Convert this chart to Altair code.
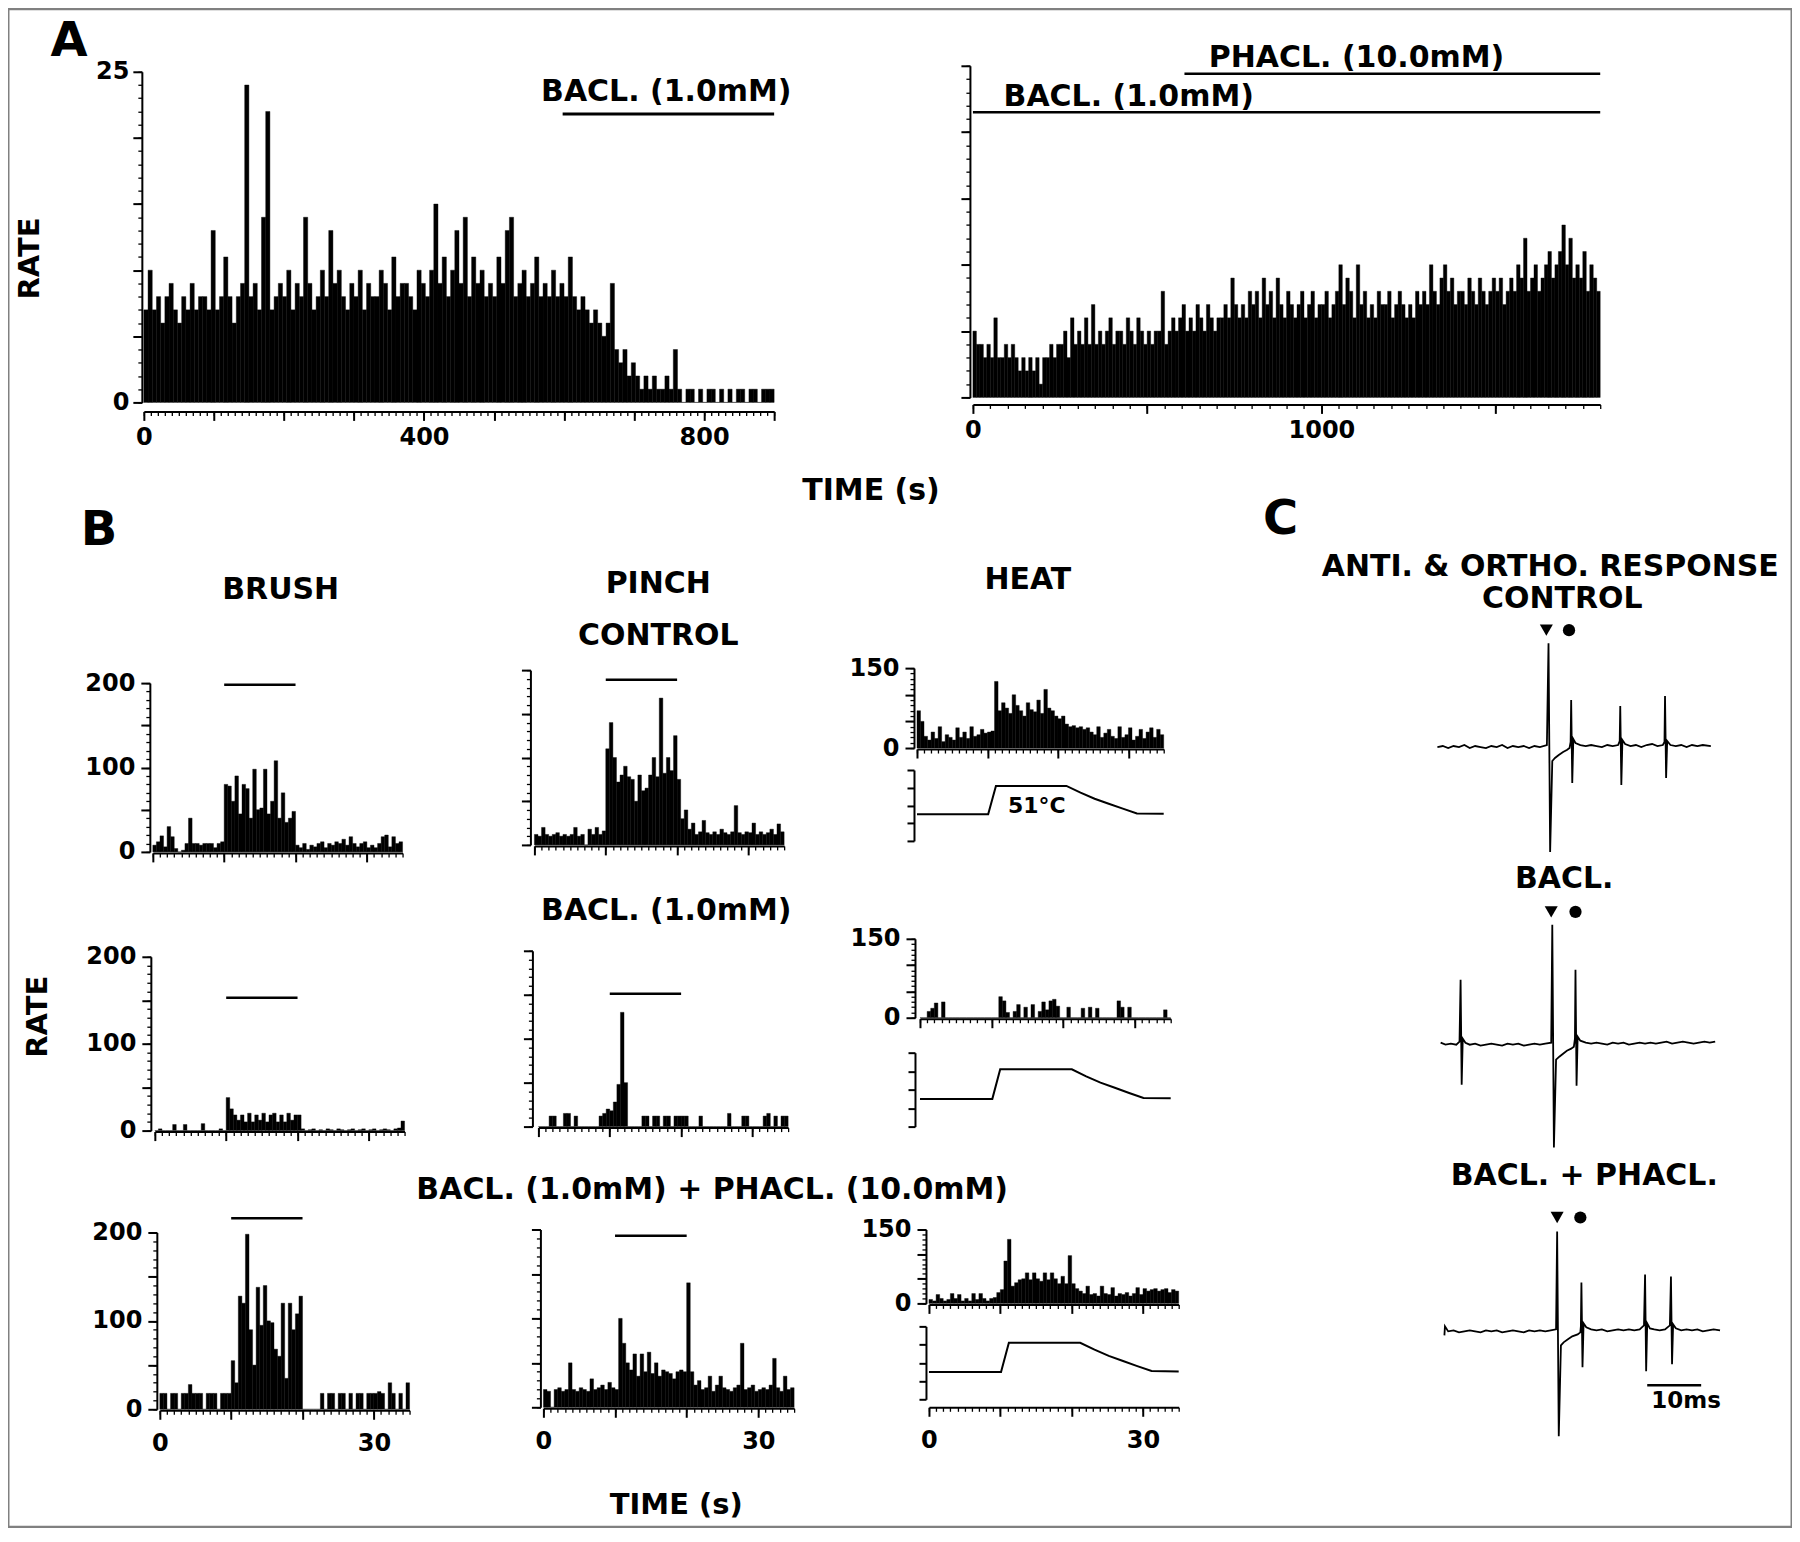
import altair as alt
import pandas as pd

# ===================== values =====================
# ---- Panel A: discharge rate (spikes/s) in successive time bins
A_CTRL_BIN = 6  # s per bin (left histogram)
A_CTRL_RATE = [
    7, 10, 7, 8, 6, 8, 9, 7, 6, 8, 7, 9, 7, 8, 8, 7, 13, 7, 8, 11, 8, 6, 8, 9, 24,
    8, 9, 7, 14, 22, 7, 8, 9, 8, 10, 7, 9, 8, 14, 9, 7, 8, 10, 8, 13, 9, 10, 8, 7, 9,
    8, 10, 7, 9, 8, 8, 10, 9, 7, 11, 8, 9, 9, 8, 7, 10, 9, 8, 10, 15, 9, 11, 8, 10, 13,
    9, 14, 8, 11, 9, 10, 8, 9, 8, 11, 9, 13, 14, 8, 9, 10, 8, 9, 11, 8, 9, 8, 10, 8, 9,
    8, 11, 8, 7, 8, 7, 6, 7, 6, 5, 6, 9, 4, 3, 4, 2, 3, 2, 1, 2, 1, 2, 1, 1, 2,
    1, 4, 1, 0, 1, 1, 0, 1, 0, 1, 1, 0, 1, 0, 1, 0, 1, 1, 0, 1, 1, 0, 1, 1, 1,
]
A_CTRL_DRUG = [[598, 900, 21.8]]  # start s, end s, level of drawn bar

A_DRUG_BIN = 10  # s per bin (right histogram)
A_DRUG_RATE = [
    5, 4, 4, 3, 4, 3, 6, 3, 3, 4,
    3, 4, 3, 2, 3, 2, 3, 2, 3, 1,
    3, 3, 4, 3, 4, 4, 5, 3, 6, 4,
    5, 4, 6, 4, 7, 4, 5, 4, 5, 6,
    4, 5, 5, 4, 6, 5, 4, 6, 5, 4,
    5, 4, 5, 5, 8, 4, 5, 6, 5, 6,
    7, 5, 6, 5, 7, 6, 5, 7, 6, 5,
    6, 6, 7, 6, 9, 7, 6, 7, 6, 8,
    7, 8, 6, 9, 7, 8, 6, 9, 7, 6,
    8, 7, 6, 7, 8, 6, 7, 8, 6, 7,
    7, 8, 6, 7, 8, 10, 7, 9, 8, 6,
    10, 7, 8, 6, 7, 6, 8, 7, 7, 8,
    6, 7, 8, 7, 6, 7, 6, 8, 7, 8,
    7, 10, 8, 7, 9, 10, 8, 9, 7, 8,
    8, 7, 9, 8, 7, 9, 8, 7, 8, 9,
    8, 9, 7, 8, 9, 8, 10, 9, 12, 8,
    9, 10, 8, 9, 10, 11, 9, 10, 11, 13,
    10, 12, 9, 10, 9, 11, 8, 10, 9, 8,
]
A_DRUG_BARS = [[0, 1800, 21.5], [607, 1800, 24.4]]  # BACL., PHACL.

# ---- Panel B: 0.5-s bins over 0-35 s
B_BIN = 0.5
BRUSH_CTRL = [8, 12, 19, 6, 30, 18, 4, 0, 2, 10,
              40, 10, 10, 8, 10, 10, 10, 5, 10, 12,
              80, 78, 60, 90, 45, 80, 75, 40, 98, 50, 52, 98, 45, 60, 108, 40, 70, 35, 40, 48,
              8, 5, 10, 3, 8, 6, 10, 12, 5, 10, 8, 12, 10, 15, 8, 18, 10, 6, 10, 12,
              5, 8, 5, 10, 18, 20, 6, 18, 10, 12]
PINCH_CTRL = [12, 10, 20, 12, 10, 12, 14, 10, 12, 10,
              12, 20, 10, 12, 0, 18, 12, 20, 12, 16,
              110, 140, 100, 72, 80, 90, 78, 75, 50, 80, 62, 65, 80, 100, 78, 168, 82, 100, 85, 125,
              75, 30, 40, 18, 25, 12, 15, 28, 14, 12, 15, 12, 18, 14, 12, 15, 45, 14, 12, 15,
              14, 25, 12, 15, 12, 14, 18, 12, 24, 15]
HEAT_CTRL = [70, 50, 22, 15, 30, 18, 40, 12, 25, 20,
             15, 38, 20, 30, 18, 40, 22, 25, 35, 28,
             30, 32, 125, 70, 85, 75, 65, 100, 80, 70, 60, 85, 72, 68, 90, 65, 110, 75, 70, 60,
             55, 60, 45, 40, 42, 38, 40, 35, 38, 30, 25, 40, 20, 28, 35, 22, 18, 40, 20, 25,
             38, 15, 22, 35, 18, 30, 38, 20, 35, 25]
BRUSH_BACL = [0, 2, 0, 0, 0, 7, 0, 0, 7, 0,
              0, 0, 0, 8, 0, 0, 0, 0, 2, 0,
              38, 25, 18, 12, 18, 10, 20, 10, 18, 12, 20, 10, 18, 20, 10, 18, 10, 20, 12, 18,
              18, 2, 0, 1, 2, 0, 1, 0, 2, 1, 0, 2, 1, 0, 1, 2, 0, 1, 2, 0,
              1, 2, 0, 1, 2, 1, 0, 2, 3, 11]
PINCH_BACL = [0, 0, 0, 12, 12, 0, 0, 15, 15, 0,
              12, 0, 0, 0, 0, 0, 0, 12, 15, 20,
              18, 28, 48, 130, 50, 0, 0, 0, 0, 12, 12, 0, 12, 12, 0, 12, 12, 0, 12, 12,
              12, 12, 0, 0, 0, 12, 0, 0, 0, 0, 0, 0, 0, 15, 0, 0, 0, 12, 12, 0,
              0, 0, 0, 12, 15, 0, 12, 0, 12, 12]
HEAT_BACL = [0, 0, 12, 18, 28, 0, 30, 0, 0, 0,
             0, 0, 0, 0, 0, 0, 0, 0, 0, 0,
             0, 0, 40, 32, 10, 0, 12, 25, 0, 20, 0, 25, 0, 12, 30, 15, 32, 35, 22, 0,
             0, 20, 0, 0, 0, 18, 0, 20, 0, 18, 0, 0, 0, 0, 0, 32, 20, 0, 20, 0,
             0, 0, 0, 0, 0, 0, 0, 0, 15, 0]
BRUSH_BOTH = [18, 18, 0, 18, 18, 0, 18, 18, 28, 18,
              18, 18, 0, 18, 18, 18, 0, 18, 18, 18,
              55, 30, 128, 120, 198, 90, 50, 138, 95, 140, 100, 98, 68, 60, 120, 35, 120, 90, 108, 128,
              0, 0, 0, 0, 0, 18, 0, 18, 18, 0, 18, 18, 0, 18, 0, 18, 18, 0, 18, 18,
              18, 20, 18, 0, 30, 18, 0, 18, 0, 30]
PINCH_BOTH = [20, 18, 0, 20, 22, 18, 20, 50, 20, 18,
              22, 20, 18, 32, 20, 22, 25, 20, 28, 22,
              20, 100, 72, 50, 42, 60, 35, 60, 40, 62, 38, 50, 35, 42, 40, 38, 32, 40, 42, 40,
              140, 40, 25, 30, 20, 22, 35, 18, 25, 35, 22, 20, 18, 22, 25, 72, 20, 22, 25, 18,
              20, 22, 20, 25, 55, 22, 18, 35, 20, 22]
HEAT_BOTH = [8, 5, 18, 10, 5, 8, 20, 10, 18, 5,
             10, 5, 20, 8, 20, 10, 5, 10, 12, 22,
             28, 86, 130, 35, 42, 48, 50, 62, 48, 62, 50, 45, 62, 48, 62, 50, 40, 55, 40, 97,
             40, 30, 25, 20, 35, 18, 20, 15, 35, 20, 18, 32, 15, 20, 18, 22, 15, 20, 32, 18,
             30, 25, 28, 30, 25, 28, 30, 22, 28, 25]
# stimulus bars: start s, end s, level drawn (rows: control, BACL., BACL.+PHACL.)
STIM_BRUSH = [[10, 20, 198], [10, 20, 153], [10, 20, 216]]
STIM_PINCH = [[10, 20, 189], [10, 20, 151], [10, 20, 193]]
# heat stimulus temperature (deg C)
TEMP_T = [0, 10.1, 11.2, 21.2, 23.2, 25.2, 27.2, 29.2, 31.2, 35]
TEMP_C = [35, 35, 51, 51, 47.2, 43.8, 41.0, 38.2, 35.5, 35.3]

# ---- Panel C: single sweeps (ms, amplitude in arbitrary units)
TRACE_CTRL = [
    (0, 0), (1, 1), (2, -1), (3, 1), (4, 0), (5, 2), (6, -1), (7, 1), (8, 0), (9, -1),
    (10, 1), (11, 0), (12, 2), (13, -1), (14, 1), (15, 0), (16, 1), (17, -1), (18, 1), (19, 0),
    (20.3, 2), (20.6, 104), (20.9, -105), (21.3, -14), (21.8, -11), (22.5, -8), (23.3, -5),
    (24.0, -3), (24.5, -1), (24.7, 5), (24.8, 47), (25.0, -36), (25.2, 8), (25.6, 4),
    (26.5, 2), (27.5, 1), (28.5, 2), (29.5, 1), (30.5, 0), (31.5, 2), (32.5, 1), (33.5, 2),
    (33.8, 6), (33.9, 41), (34.1, -38), (34.3, 7), (34.8, 3), (35.8, 1), (36.8, 2),
    (37.8, 0), (38.8, 2), (39.8, 3), (40.8, 1), (41.8, 2), (42.1, 5), (42.2, 51), (42.4, -31),
    (42.6, 6), (43.2, 2), (44.2, 1), (45.2, 2), (46.2, 0), (47.2, 2), (48.2, 1), (49.2, 2), (50.7, 1),
]
TRACE_BACL = [
    (0.6, 2), (1.5, 0), (2.5, 1), (3.5, 0), (4.1, 3), (4.3, 65), (4.5, -40), (4.7, 6), (5.2, 2), (6, 0),
    (7, 1), (8, -1), (9, 0), (10, 1), (11, 0), (12, -1), (13, 1), (14, 0), (15, 1), (16, -1),
    (17, 0), (18, 1), (19, 0), (20, 1), (21.1, 2), (21.3, 120), (21.6, -103), (22.0, -15),
    (22.6, -12), (23.3, -9), (24.0, -6), (24.8, -4), (25.3, -2), (25.5, 6), (25.6, 75),
    (25.8, -41), (26.0, 8), (26.5, 4), (27.5, 2), (28.5, 1), (29.5, 2), (30.5, 1), (31.5, 0),
    (32.5, 2), (33.5, 1), (34.5, 2), (35.5, 0), (36.5, 1), (37.5, 2), (38.5, 1), (39.5, 2),
    (40.5, 1), (41.5, 2), (42.5, 3), (43.5, 1), (44.5, 2), (45.5, 3), (46.5, 2), (47.5, 1),
    (48.5, 2), (49.5, 3), (50.5, 2), (51.5, 3),
]
TRACE_BOTH = [
    (1.3, -4), (1.4, 5), (2.0, 0), (3, 1), (4, -1), (5, 0), (6, 1), (7, 0), (8, -1), (9, 1),
    (10, 0), (11, 1), (12, -1), (13, 0), (14, 1), (15, 0), (16, -1), (17, 1), (18, 0), (19, 1),
    (20, 0), (21, 1), (22.0, 2), (22.2, 100), (22.5, -105), (22.9, -14), (23.4, -11), (24.2, -8),
    (25.0, -5), (26.0, -3), (26.5, -1), (26.6, 5), (26.7, 49), (26.9, -36), (27.1, 8), (27.6, 4),
    (28.5, 2), (29.5, 1), (30.5, 2), (31.5, 0), (32.5, 1), (33.5, 2), (34.5, 1), (35.5, 2),
    (36.5, 1), (37.5, 2), (38.3, 6), (38.5, 57), (38.7, -40), (38.9, 8), (39.4, 3), (40.2, 2),
    (41.2, 1), (42.2, 2), (43.1, 6), (43.3, 55), (43.5, -33), (43.7, 7), (44.2, 3), (45.2, 1),
    (46.2, 2), (47.2, 1), (48.2, 2), (49.2, 0), (50.2, 1), (51.2, 2), (52.4, 1),
]
MARK_TRI_T = [20.2, 21.1, 22.2]   # antidromic stimulus (triangle)
MARK_DOT_T = [24.4, 25.6, 26.5]   # orthodromic stimulus (dot)
MARK_LEVEL = [117, 133, 114]
SCALE_BAR_MS = [38.9, 48.9]
SCALE_BAR_LEVEL = -54

# ===================== layout / drawing =====================
W, H = 1786, 1520
M = 8
FONT = "DejaVu Sans"


def px(v):
    return v - M


def lin(d0, d1, p0, p1):
    return alt.Scale(domain=[d0, d1], range=[px(p0), px(p1)], nice=False, zero=False)


def steps(a, b, s):
    n = int(round((b - a) / s))
    return [round(a + i * s, 3) for i in range(n + 1)]


def bottom_axis(y_full, values, size, labels=None, domain=True, pad=6):
    kw = dict(orient="bottom", offset=px(y_full) - H, values=values, tickSize=size,
              tickWidth=2 if size > 5 else 1.3, domain=domain, title=None, format="d",
              labelPadding=pad)
    if labels is None:
        kw["labels"] = False
    else:
        kw["labelExpr"] = f"indexof({labels}, datum.value) >= 0 ? datum.label : ''"
    return alt.Axis(**kw)


def left_axis(x_full, values, size, labels=None, domain=True, pad=6):
    kw = dict(orient="left", offset=-px(x_full), values=values, tickSize=size,
              tickWidth=2 if size > 5 else 1.3, domain=domain, title=None, format="d",
              labelPadding=pad)
    if labels is None:
        kw["labels"] = False
    else:
        kw["labelExpr"] = f"indexof({labels}, datum.value) >= 0 ? datum.label : ''"
    return alt.Axis(**kw)


def hist(values, binw, xs, ys, xax=None, yax=None):
    n = len(values)
    df = pd.DataFrame({"t0": [round(i * binw, 3) for i in range(n)],
                       "t1": [round((i + 1) * binw, 3) for i in range(n)],
                       "rate": values})
    return alt.Chart(df).mark_bar(color="black", stroke="black", strokeWidth=0.4).encode(
        x=alt.X("t0:Q", scale=xs, axis=xax), x2="t1:Q",
        y=alt.Y("rate:Q", scale=ys, axis=yax), y2=alt.datum(0))


def ghost(xs, ys, x0, y0, xax=None, yax=None):
    df = pd.DataFrame({"x": [x0], "y": [y0]})
    return alt.Chart(df).mark_point(opacity=0, size=1).encode(
        x=alt.X("x:Q", scale=xs, axis=xax), y=alt.Y("y:Q", scale=ys, axis=yax))


def hbars(rows, xs, ys, width):
    df = pd.DataFrame(rows, columns=["s", "e", "lvl"])
    return alt.Chart(df).mark_rule(color="black", strokeWidth=width).encode(
        x=alt.X("s:Q", scale=xs, axis=None), x2="e:Q",
        y=alt.Y("lvl:Q", scale=ys, axis=None))


def line(t, v, xs, ys, width=2, xax=None, yax=None):
    df = pd.DataFrame({"t": t, "v": v})
    return alt.Chart(df).mark_line(color="black", strokeWidth=width).encode(
        x=alt.X("t:Q", scale=xs, axis=xax), y=alt.Y("v:Q", scale=ys, axis=yax))


def label(text, x, y, size=30, angle=0):
    df = pd.DataFrame({"txt": [text]})
    return alt.Chart(df).mark_text(font=FONT, fontWeight="bold", fontSize=size, angle=angle,
                                   align="center", baseline="middle", color="black").encode(
        x=alt.value(px(x)), y=alt.value(px(y)), text="txt:N")


layers = []

# ---------------- Panel A, left ----------------
xs = lin(0, 900, 144, 775)
ys = lin(0, 25, 402, 71)
layers.append(hist(A_CTRL_RATE, A_CTRL_BIN, xs, ys,
                   bottom_axis(411, steps(0, 900, 100), 9, labels=[0, 400, 800], pad=5),
                   left_axis(142, steps(0, 25, 5), 9, labels=[0, 25], pad=4)))
layers.append(ghost(xs, ys, 0, 0,
                    bottom_axis(411, steps(0, 900, 10), 4, domain=False),
                    left_axis(142, steps(0, 25, 0.5), 4, domain=False)))
layers.append(hbars(A_CTRL_DRUG, xs, ys, 3))

# ---------------- Panel A, right ----------------
xs = lin(0, 1800, 974, 1602)
ys = lin(0, 25, 397, 65)
layers.append(hist(A_DRUG_RATE, A_DRUG_BIN, xs, ys,
                   bottom_axis(404, steps(0, 1500, 500), 9, labels=[0, 1000], pad=5),
                   left_axis(971, steps(0, 25, 5), 9)))
layers.append(ghost(xs, ys, 0, 0,
                    bottom_axis(404, steps(0, 1800, 50), 4, domain=False),
                    left_axis(971, steps(0, 25, 0.5), 4, domain=False)))
layers.append(hbars(A_DRUG_BARS, xs, ys, 2.5))

# ---------------- Panel B ----------------
B_ROWS = [
    dict(brush=BRUSH_CTRL, pinch=PINCH_CTRL, heat=HEAT_CTRL,
         bx=(153, 403), by=(852, 683), bax=150,
         px_=(535, 785), py=(845, 670), pax=531,
         hx=(918, 1165), hy=(748, 668), hax=915, ty=(841, 770), bottom=None),
    dict(brush=BRUSH_BACL, pinch=PINCH_BACL, heat=HEAT_BACL,
         bx=(155, 405), by=(1131, 957), bax=151,
         px_=(539, 789), py=(1127, 951), pax=533,
         hx=(921, 1172), hy=(1018, 939), hax=916, ty=(1127, 1053), bottom=None),
    dict(brush=BRUSH_BOTH, pinch=PINCH_BOTH, heat=HEAT_BOTH,
         bx=(160, 410), by=(1410, 1233), bax=157,
         px_=(544, 795), py=(1408, 1230), pax=541,
         hx=(930, 1180), hy=(1304, 1230), hax=927, ty=(1400, 1327), bottom=1408),
]

for r, row in enumerate(B_ROWS):
    last = row["bottom"] is not None
    xlab = [0, 30] if last else None
    # brush
    xs = lin(0, 35, *row["bx"])
    ys = lin(0, 200, *row["by"])
    layers.append(hist(row["brush"], B_BIN, xs, ys,
                       bottom_axis(row["by"][0] + 1, steps(0, 30, 10), 9, labels=xlab, pad=12),
                       left_axis(row["bax"], steps(0, 200, 50), 9, labels=[0, 100, 200], pad=6)))
    layers.append(ghost(xs, ys, 0, 0,
                        bottom_axis(row["by"][0] + 1, steps(0, 35, 1), 4, domain=False),
                        left_axis(row["bax"], steps(0, 200, 10), 4, domain=False)))
    layers.append(hbars([STIM_BRUSH[r]], xs, ys, 2.5))
    # pinch
    xs = lin(0, 35, *row["px_"])
    ys = lin(0, 200, *row["py"])
    layers.append(hist(row["pinch"], B_BIN, xs, ys,
                       bottom_axis(row["py"][0] + 1, steps(0, 30, 10), 9, labels=xlab, pad=12),
                       left_axis(row["pax"], steps(0, 200, 50), 9)))
    layers.append(ghost(xs, ys, 0, 0,
                        bottom_axis(row["py"][0] + 1, steps(0, 35, 1), 4, domain=False),
                        left_axis(row["pax"], steps(0, 200, 10), 4, domain=False)))
    layers.append(hbars([STIM_PINCH[r]], xs, ys, 2.5))
    # heat
    xs = lin(0, 35, *row["hx"])
    ys = lin(0, 150, *row["hy"])
    layers.append(hist(row["heat"], B_BIN, xs, ys,
                       bottom_axis(row["hy"][0] + 1, steps(0, 30, 10), 9, pad=12),
                       left_axis(row["hax"], steps(0, 150, 50), 9, labels=[0, 150], pad=6)))
    layers.append(ghost(xs, ys, 0, 0,
                        bottom_axis(row["hy"][0] + 1, steps(0, 35, 1), 4, domain=False),
                        left_axis(row["hax"], steps(0, 150, 10), 4, domain=False)))
    ts = lin(20, 60, *row["ty"])
    if last:
        layers.append(line(TEMP_T, TEMP_C, xs, ts, 2,
                           bottom_axis(row["bottom"], steps(0, 30, 10), 9, labels=[0, 30], pad=12),
                           left_axis(row["hax"], steps(20, 60, 10), 7)))
        layers.append(ghost(xs, ts, 0, 20,
                            bottom_axis(row["bottom"], steps(0, 35, 1), 4, domain=False), None))
    else:
        layers.append(line(TEMP_T, TEMP_C, xs, ts, 2, None,
                           left_axis(row["hax"], steps(20, 60, 10), 7)))

# ---------------- Panel C ----------------
xs = lin(0, 54, 1439, 1439 + 54 * 5.4)
bases = [747, 1045, 1332]
for i, tr in enumerate([TRACE_CTRL, TRACE_BACL, TRACE_BOTH]):
    ys = lin(-140, 140, bases[i] + 140, bases[i] - 140)
    t = [p[0] for p in tr]
    v = [p[1] for p in tr]
    layers.append(line(t, v, xs, ys, 1.8))
    tri = pd.DataFrame({"t": [MARK_TRI_T[i]], "v": [MARK_LEVEL[i]]})
    dot = pd.DataFrame({"t": [MARK_DOT_T[i]], "v": [MARK_LEVEL[i]]})
    layers.append(alt.Chart(tri).mark_point(shape="triangle-down", filled=True, size=170,
                                            color="black", opacity=1).encode(
        x=alt.X("t:Q", scale=xs, axis=None), y=alt.Y("v:Q", scale=ys, axis=None)))
    layers.append(alt.Chart(dot).mark_point(shape="circle", filled=True, size=150,
                                            color="black", opacity=1).encode(
        x=alt.X("t:Q", scale=xs, axis=None), y=alt.Y("v:Q", scale=ys, axis=None)))
    if i == 2:
        layers.append(hbars([[SCALE_BAR_MS[0], SCALE_BAR_MS[1], SCALE_BAR_LEVEL]], xs, ys, 2.5))

# ---------------- text ----------------
layers += [
    label("A", 69, 41, 48),
    label("RATE", 30, 258, 29, 270),
    label("TIME (s)", 872, 491, 30),
    label("BACL. (1.0mM)", 667, 91, 30),
    label("BACL. (1.0mM)", 1130, 96, 30),
    label("PHACL. (10.0mM)", 1358, 57, 30),
    label("B", 99, 531, 48),
    label("BRUSH", 281, 590, 30),
    label("PINCH", 659, 584, 30),
    label("CONTROL", 659, 636, 30),
    label("HEAT", 1029, 580, 30),
    label("51\u00b0C", 1038, 806, 22),
    label("BACL. (1.0mM)", 667, 911, 30),
    label("BACL. (1.0mM) + PHACL. (10.0mM)", 713, 1190, 30),
    label("RATE", 38, 1017, 29, 270),
    label("TIME (s)", 677, 1506, 29),
    label("C", 1282, 520, 48),
    label("ANTI. & ORTHO. RESPONSE", 1552, 567, 30),
    label("CONTROL", 1564, 599, 30),
    label("BACL.", 1566, 879, 30),
    label("BACL. + PHACL.", 1586, 1176, 30),
    label("10ms", 1688, 1402, 23),
]

chart = alt.layer(*layers).resolve_scale(x="independent", y="independent").properties(
    width=W, height=H, padding=0, autosize=alt.AutoSizeParams(type="none"),
    background="white",
).configure_view(stroke="#808080", strokeWidth=3).configure_axis(
    domainColor="black", domainWidth=2, tickColor="black", labelColor="black",
    labelFont=FONT, labelFontWeight="bold", labelFontSize=24, grid=False,
    labelFlush=False, labelOverlap=False,
)

chart.save("out.html", embed_options={"renderer": "svg", "actions": False})
